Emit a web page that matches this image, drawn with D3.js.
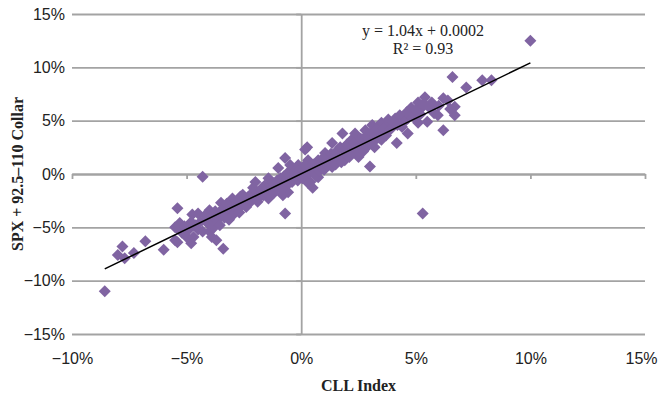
<!DOCTYPE html>
<html>
<head>
<meta charset="utf-8">
<script src="https://cdn.jsdelivr.net/npm/d3@7"></script>
<style>
  body { margin: 0; background: #fff; }
  svg { display: block; font-family: "Liberation Serif", "Times New Roman", serif; }
</style>
</head>
<body>
<svg id="chart" width="660" height="396"></svg>
<script>
// monthly returns, in percent
const cllIndex = [
  -8.57, -7.8, -8.0, -7.7, -7.3, -6.8, -6.0, -5.4, -5.4, -5.4, -5.5, -5.5, -5.3, -5.0, -4.8, -4.8,
  -4.75, -4.7, -4.5, -4.5, -4.4, -4.3, -4.3, -4.1, -4.1, -4.0, -4.0, -3.9, -3.8, -3.7, -3.65, -3.5,
  -3.4, -3.2, -3.0, -2.95, -2.75, -2.65, -2.55, -2.3, -2.1, -2.0, -1.87, -1.7, -1.43, -1.43, -1.13, -1.0,
  -0.8, -0.7, -0.7, -0.57, -0.48, -0.4, -0.13, 0.0, 0.17, 0.26, 0.3, 0.3, 0.4, 0.4, 0.5, 0.6,
  0.74, 0.74, 1.04, 1.35, 1.35, 1.6, 1.8, 1.9, 2.05, 2.2, 2.35, 2.5, 2.65, 2.8, 3.0, 3.1,
  3.2, 3.43, 3.5, 3.5, 3.5, 3.8, 3.8, 4.1, 4.17, 4.4, 4.65, 4.65, 4.8, 5.1, 5.1, 5.26,
  5.3, 5.4, 5.5, 5.6, 5.8, 5.96, 6.2, 6.2, 6.6, 6.7, 6.7, 7.2, 7.9, 8.3, 10.0,
  -3.3, -3.1, -3.0, -2.9, -2.8, -2.7, -2.6, -2.5, -2.4, -2.3, -2.2, -2.15, -2.05, -1.95, -1.9, -1.8,
  -1.75, -1.65, -1.6, -1.55, -1.5, -1.4, -1.35, -1.3, -1.25, -1.2, -1.15, -1.1, -1.05, -0.95, -0.9, -0.85,
  -0.8, -0.75, -0.7, -0.65, -0.6, -0.55, -0.5, -0.45, -0.35, -0.3, -0.25, -0.2, -0.15, -0.1, -0.05, 0.05,
  0.1, 0.15, 0.2, 0.25, 0.35, 0.45, 0.5, 0.55, 0.65, 0.7, 0.8, 0.85, 0.9, 0.95, 1.0, 1.1,
  1.15, 1.2, 1.25, 1.3, 1.4, 1.45, 1.5, 1.55, 1.65, 1.7, 1.75, 1.85, 1.95, 2.0, 2.1, 2.15,
  2.25, 2.3, 2.4, 2.45, 2.55, 2.6, 2.7, 2.75, 2.85, 2.9, 2.95, 3.05, 3.15, 3.25, 3.3, 3.4,
  3.6, 3.7, 3.9, 4.0, 4.2, 4.3, 4.5, 4.6, 4.9, 5.0, 5.2, 5.35, 5.7, 6.0, 6.4, 6.5,
  -5.2, -5.1, -4.9, -4.6, -4.2, -3.95, -3.85, -3.75, -3.6, -3.55, -3.45, -3.35, -3.25, -3.15
]
const collar = [
  -11.0, -6.8, -7.6, -7.9, -7.4, -6.3, -7.1, -3.2, -6.4, -5.1, -5.0, -6.2, -4.6, -5.9, -6.5, -4.5,
  -3.8, -5.9, -5.2, -3.7, -4.5, -5.4, -0.25, -4.3, -4.6, -3.4, -5.4, -5.9, -5.0, -6.2, -4.3, -2.7,
  -7.0, -3.7, -2.3, -2.7, -3.2, -2.1, -1.95, -2.7, -1.3, -0.75, -2.3, -1.3, -0.4, -2.3, -1.3, 0.56,
  -2.0, -3.7, 1.5, -1.7, 0.85, -0.75, 0.85, -0.1, 2.3, 2.5, -0.85, 1.3, 1.0, -0.75, -1.3, 0.37,
  1.3, -0.3, 1.97, 2.9, 0.66, 2.25, 3.8, 1.3, 2.5, 3.2, 3.8, 1.6, 2.5, 4.1, 0.7, 4.6,
  2.5, 4.6, 4.8, 3.2, 3.8, 5.1, 4.6, 5.2, 2.9, 4.4, 5.2, 3.8, 6.2, 6.7, 4.8, 6.2,
  -3.7, 7.2, 4.9, 6.2, 5.7, 5.5, 7.1, 4.1, 9.1, 6.3, 5.5, 8.1, 8.8, 8.8, 12.5,
  -3.0, -3.5, -3.9, -3.1, -2.6, -3.6, -2.9, -2.4, -3.1, -2.1, -2.6, -1.8, -2.2, -1.7, -2.6, -1.9,
  -1.5, -2.0, -1.1, -1.7, -1.4, -1.9, -1.0, -1.5, -0.8, -1.8, -0.9, -1.4, -0.6, -1.1, -0.4, -1.5,
  -0.8, -0.2, -1.2, -0.5, 0.1, -0.9, -0.3, 0.3, -0.5, 0.2, -0.2, 0.5, -0.6, 0.1, 0.4, -0.4,
  0.3, 0.8, -0.1, 0.5, 0.1, 0.6, 0.2, 0.9, -0.2, 0.7, 0.3, 1.0, 0.6, 1.5, 0.4, 1.2,
  0.8, 1.6, 0.9, 1.9, 1.2, 1.7, 0.9, 2.1, 1.4, 2.5, 1.1, 2.2, 1.8, 2.8, 1.6, 2.3,
  2.0, 2.9, 2.2, 3.1, 2.6, 3.3, 2.1, 3.0, 3.6, 2.6, 3.3, 3.9, 3.0, 3.6, 4.2, 3.4,
  4.3, 3.6, 4.2, 4.8, 4.6, 5.5, 4.9, 5.8, 5.4, 6.0, 5.6, 6.6, 6.7, 6.4, 6.9, 6.1,
  -5.5, -4.9, -5.2, -4.8, -3.9, -4.6, -4.0, -3.5, -3.8, -4.8, -3.3, -4.1, -2.8, -4.3
]
const xTicks = [-10, -5, 0, 5, 10, 15]
const yTicks = [-15, -10, -5, 0, 5, 10, 15]
const slope = 1.04
const intercept = 0.02   // 0.0002 in decimal, here in percent
const equation = ["y = 1.04x + 0.0002", "R\u00b2 = 0.93"]

const width = 660, height = 396
const margin = { top: 14, right: 15, bottom: 62, left: 72 }
const gridColor = "#a3a3a3"
const markColor = "#8064a2"

const svg = d3.select("#chart")
svg.append("rect").attr("width", width).attr("height", height).attr("fill", "#fff")

const x = d3.scaleLinear().domain([-10, 15]).range([margin.left, width - margin.right])
const y = d3.scaleLinear().domain([-15, 15]).range([height - margin.bottom, margin.top])
const pct = d => d3.format("d")(d) + "%"

// horizontal gridlines
svg.append("g")
    .attr("transform", "translate(" + margin.left + ",0)")
    .call(d3.axisLeft(y).tickValues(yTicks).tickSize(-(x.range()[1] - x.range()[0])).tickFormat(""))
    .call(g => g.select(".domain").remove())
    .call(g => g.selectAll("line").attr("stroke", gridColor).attr("stroke-width", 1.8))

// vertical axis through 0
svg.append("g")
    .attr("transform", "translate(" + x(0) + ",0)")
    .call(d3.axisLeft(y).tickValues(yTicks).tickSize(5).tickSizeOuter(0).tickFormat(""))
    .call(g => g.select(".domain").attr("stroke", gridColor).attr("stroke-width", 1.8))
    .call(g => g.selectAll("line").attr("stroke", gridColor).attr("stroke-width", 1.8))

// horizontal axis through 0
svg.append("g")
    .attr("transform", "translate(0," + y(0) + ")")
    .call(d3.axisBottom(x).tickValues(xTicks).tickSize(5).tickSizeOuter(0).tickFormat(""))
    .call(g => g.select(".domain").attr("stroke", gridColor).attr("stroke-width", 1.8))
    .call(g => g.selectAll("line").attr("stroke", gridColor).attr("stroke-width", 1.8))

// tick labels
svg.append("g")
    .attr("transform", "translate(" + margin.left + ",0)")
    .call(d3.axisLeft(y).tickValues(yTicks).tickSize(0).tickPadding(7).tickFormat(pct))
    .call(g => g.select(".domain").remove())
    .call(g => g.selectAll("text").attr("font-size", 16).attr("font-family", null).attr("fill", "#222"))

svg.append("g")
    .attr("transform", "translate(0," + y(-15) + ")")
    .call(d3.axisBottom(x).tickValues(xTicks).tickSize(0).tickPadding(18.6).tickFormat(pct))
    .call(g => g.select(".domain").remove())
    .call(g => g.selectAll("text").attr("font-size", 16).attr("font-family", null).attr("fill", "#222")
        .attr("dx", d => d === 15 ? -4 : 0))

// points
const points = cllIndex.map((v, i) => ({ x: v, y: collar[i] }))
svg.append("g")
    .selectAll("path")
    .data(points)
    .join("path")
    .attr("d", d3.symbol(d3.symbolSquare, 72))
    .attr("transform", d => "translate(" + x(d.x) + "," + y(d.y) + ") rotate(45)")
    .attr("fill", markColor)

// linear trendline
const [xMin, xMax] = d3.extent(cllIndex)
svg.append("line")
    .attr("x1", x(xMin)).attr("y1", y(slope * xMin + intercept))
    .attr("x2", x(xMax)).attr("y2", y(slope * xMax + intercept))
    .attr("stroke", "#000")
    .attr("stroke-width", 1.5)

svg.append("g")
    .selectAll("text")
    .data(equation)
    .join("text")
    .attr("x", 423)
    .attr("y", (d, i) => 36 + i * 18)
    .attr("text-anchor", "middle")
    .attr("font-size", 16)
    .attr("fill", "#222")
    .text(d => d)

// axis titles
svg.append("text")
    .attr("x", (x.range()[0] + x.range()[1]) / 2)
    .attr("y", 391)
    .attr("text-anchor", "middle")
    .attr("font-size", 16)
    .attr("font-weight", "bold")
    .attr("fill", "#222")
    .text("CLL Index")

svg.append("text")
    .attr("transform", "translate(23," + (y.range()[0] + y.range()[1]) / 2 + ") rotate(-90)")
    .attr("text-anchor", "middle")
    .attr("font-size", 16)
    .attr("font-weight", "bold")
    .attr("fill", "#222")
    .text("SPX + 92.5\u2013110 Collar")
</script>
</body>
</html>
